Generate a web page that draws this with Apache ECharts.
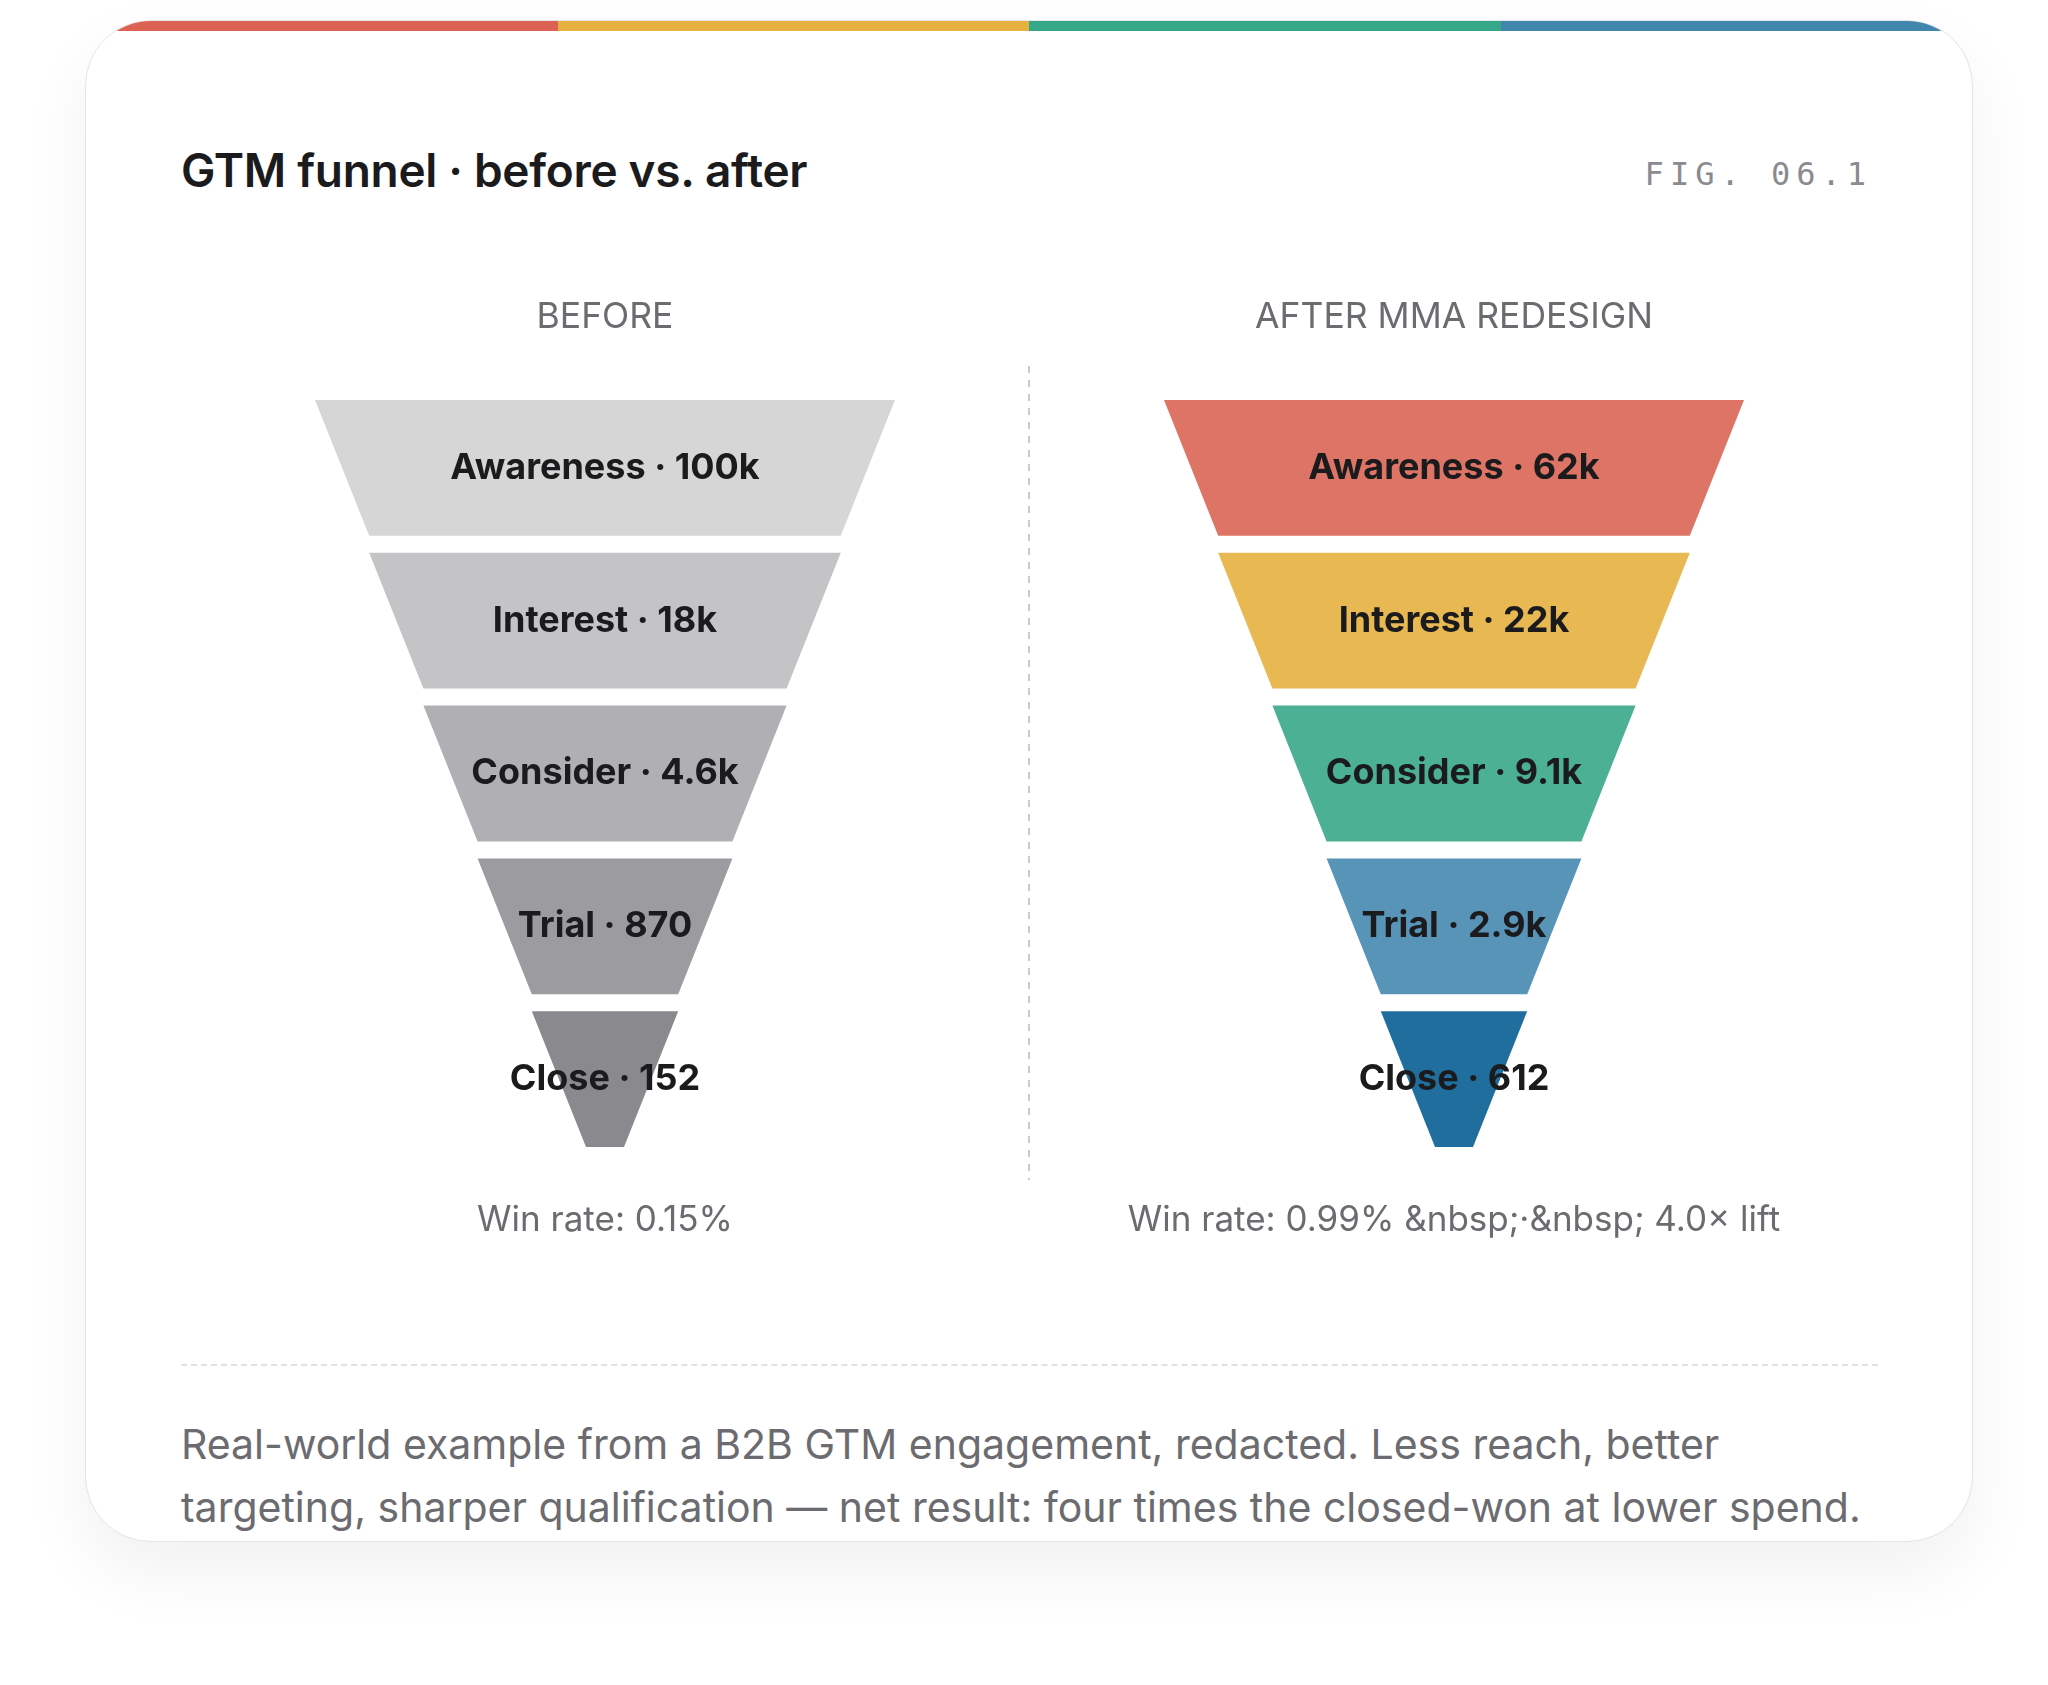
<!DOCTYPE html>
<html>
<head>
<meta charset="utf-8">
<title>GTM funnel · before vs. after</title>
<script src="https://cdn.jsdelivr.net/npm/echarts@6/dist/echarts.min.js"></script>
<style>
  html, body { margin: 0; padding: 0; background: #fff; }
  body { width: 2048px; height: 1685px; position: relative; overflow: hidden; font-family: Inter, 'Noto Sans', sans-serif; }
  .card {
    position: absolute; left: 85px; top: 20px; width: 1886px; height: 1520px;
    border: 1px solid #e4e4e9; border-radius: 66px; background: #fff;
    overflow: hidden;
    box-shadow: 0 30px 70px rgba(20, 20, 40, 0.06);
  }
  .stripe { position: absolute; left: 0; top: 0; width: 100%; height: 10px; display: flex; }
  .stripe div { flex: 1; }
  .title { position: absolute; left: 95px; top: 126px; font-size: 46px; line-height: 46px; font-weight: 600; color: #1b1b1d; letter-spacing: -0.3px; }
  .fig { position: absolute; right: 100px; top: 137px; font-family: 'DejaVu Sans Mono', monospace; font-size: 32px; line-height: 32px; letter-spacing: 6px; color: #8a8a90; }
  #chart { position: absolute; left: 0; top: 230px; width: 1886px; height: 1040px; }
  .rule { position: absolute; left: 95px; top: 1343px; width: 1697px; border-top: 2px dashed #e0e0e5; }
  .note { position: absolute; left: 95px; top: 1392px; width: 1697px; font-size: 41px; line-height: 63px; color: #6b6b70; }
</style>
</head>
<body>
<div class="card">
  <div class="stripe" id="stripe"></div>
  <div class="title">GTM funnel · before vs. after</div>
  <div class="fig">FIG. 06.1</div>
  <div id="chart"></div>
  <div class="rule"></div>
  <div class="note">Real-world example from a B2B GTM engagement, redacted. Less reach, better targeting, sharper qualification — net result: four times the closed-won at lower spend.</div>
</div>
<script>
  var stages = ['Awareness', 'Interest', 'Consider', 'Trial', 'Close'];
  var beforeCounts = [100000, 18000, 4600, 870, 152];
  var afterCounts = [62000, 22000, 9100, 2900, 612];

  var beforeColors = ['#d6d6d7', '#c4c4c6', '#b0afb3', '#9c9ba0', '#8a898e'];
  var afterColors = ['#dd7466', '#e8b853', '#4cb094', '#5894b8', '#1f6e9d'];
  var stripeColors = ['#dc6354', '#e7b13f', '#36a88a', '#4286ae'];

  stripeColors.forEach(function(c) {
    var d = document.createElement('div');
    d.style.background = c;
    document.getElementById('stripe').appendChild(d);
  });

  function fmt(n) {
    if (n >= 1000) {
      var k = n / 1000;
      return (k >= 10 ? Math.round(k) : +k.toFixed(1)) + 'k';
    }
    return String(n);
  }

  // funnel width follows stage rank, label shows the real count
  function funnelData(counts, colors) {
    return stages.map(function(name, i) {
      return {
        name: name,
        value: stages.length - i,
        count: counts[i],
        itemStyle: { color: colors[i] }
      };
    });
  }

  var beforeRate = (beforeCounts[4] / beforeCounts[0] * 100).toFixed(2);
  var afterRate = (afterCounts[4] / afterCounts[0] * 100).toFixed(2);
  var lift = (afterCounts[4] / beforeCounts[4]).toFixed(1);

  var chart = echarts.init(document.getElementById('chart'), null, { renderer: 'canvas' });

  var funnelBase = {
    type: 'funnel',
    sort: 'none',
    min: 0,
    max: stages.length,
    minSize: 38,
    maxSize: 580,
    top: 149,
    height: 747,
    width: 580,
    gap: 17,
    funnelAlign: 'center',
    silent: true,
    animation: false,
    itemStyle: { borderWidth: 0 },
    label: {
      show: true,
      position: 'inside',
      color: '#1b1b1d',
      fontFamily: 'Inter',
      fontWeight: 700,
      fontSize: 36,
      formatter: function(p) {
        return p.name + ' · ' + fmt(p.data.count);
      }
    },
    labelLine: { show: false },
    emphasis: { disabled: true }
  };

  var subStyle = { fontFamily: 'Inter', fontSize: 35.5, fill: '#6b6b70', align: 'center', verticalAlign: 'middle' };
  var rateStyle = { fontFamily: 'Inter', fontSize: 35, fill: '#6b6b70', align: 'center', verticalAlign: 'middle' };

  var option = {
    animation: false,
    series: [
      Object.assign({}, funnelBase, { name: 'Before', left: 229, data: funnelData(beforeCounts, beforeColors) }),
      Object.assign({}, funnelBase, { name: 'After', left: 1078, data: funnelData(afterCounts, afterColors) })
    ],
    graphic: [
      { type: 'text', x: 519, y: 66, style: Object.assign({ text: 'BEFORE' }, subStyle) },
      { type: 'text', x: 1368, y: 66, style: Object.assign({ text: 'AFTER MMA REDESIGN' }, subStyle) },
      {
        type: 'line',
        shape: { x1: 943, y1: 115, x2: 943, y2: 929 },
        style: { stroke: '#c9c9ce', lineWidth: 2, lineDash: [7, 7] }
      },
      { type: 'text', x: 519, y: 969, style: Object.assign({ text: 'Win rate: ' + beforeRate + '%' }, rateStyle) },
      {
        type: 'text', x: 1368, y: 969,
        style: Object.assign({ text: 'Win rate: ' + afterRate + '% &nbsp;·&nbsp; ' + lift + '× lift' }, rateStyle)
      }
    ]
  };

  chart.setOption(option);
</script>
</body>
</html>
